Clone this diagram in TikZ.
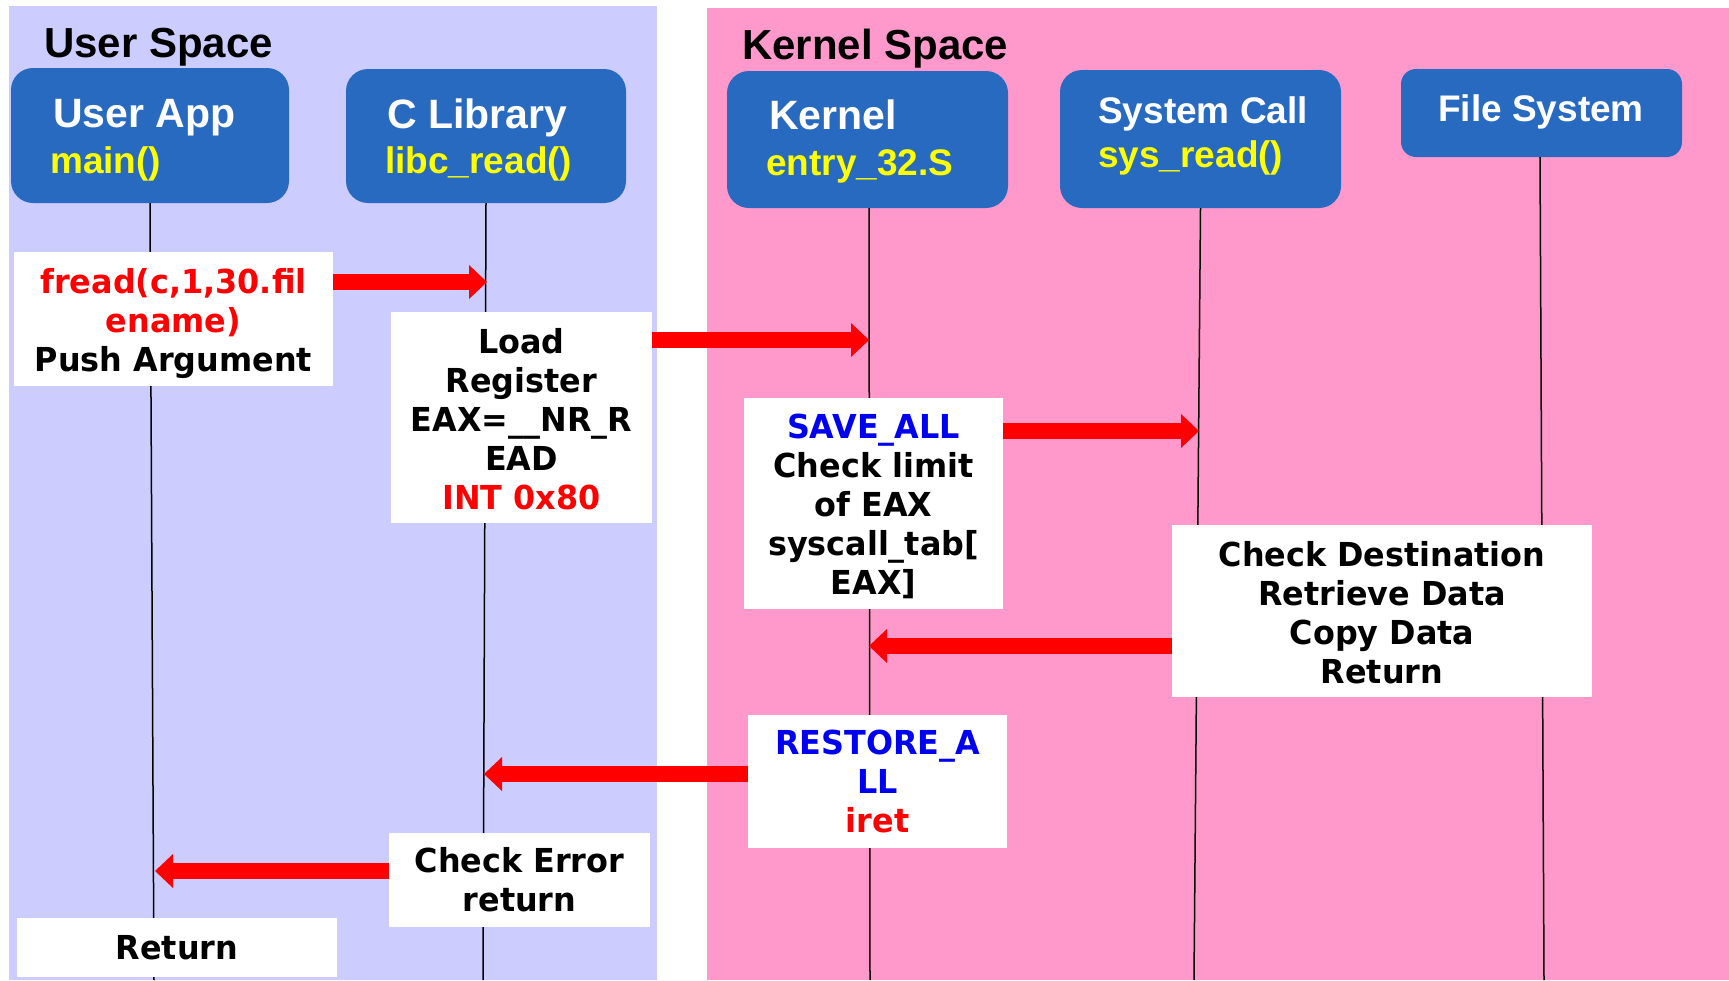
\documentclass[tikz,border=0pt]{standalone}
\usepackage{fontspec}
\setmainfont{Liberation Sans}
\newfontfamily\notefont[FakeStretch=0.965]{DejaVu Sans}
\usetikzlibrary{arrows.meta}
\definecolor{userbg}{RGB}{204,204,255}
\definecolor{kernelbg}{RGB}{255,153,204}
\definecolor{hdrblue}{RGB}{40,106,192}
\definecolor{hotred}{RGB}{255,0,0}
\definecolor{regblue}{RGB}{0,0,240}
\definecolor{hiyellow}{RGB}{255,255,0}
\begin{document}
\begin{tikzpicture}[x=1pt,y=-1pt,
  header/.style={fill=hdrblue, draw=none, rounded corners=22pt, inner sep=0pt},
  bigtitle/.style={anchor=base west, inner sep=0pt, text=white, font=\bfseries\fontsize{41}{41}\selectfont},
  smalltitle/.style={anchor=base west, inner sep=0pt, text=white, font=\bfseries\fontsize{37}{37}\selectfont},
  subtitle/.style={anchor=base west, inner sep=0pt, text=hiyellow, font=\bfseries\fontsize{37}{37}\selectfont},
  spacetitle/.style={anchor=base west, inner sep=0pt, text=black, font=\bfseries\fontsize{42}{42}\selectfont},
  note/.style={fill=white, draw=none, inner sep=0pt, align=center, text=black,
    font=\notefont\bfseries\fontsize{33}{39}\selectfont},
  life/.style={draw=black, line width=1.5pt},
  bigarrow/.style={draw=hotred, line width=16pt,
    -{Triangle[length=18pt,width=34pt,line width=0pt]}}
]
\useasboundingbox (0,0) rectangle (1729,980);
\fill[white] (0,0) rectangle (1729,980);

% address-space backgrounds
\fill[userbg] (9,6) rectangle (657,980);
\fill[kernelbg] (707,8) rectangle (1729,980);
\node[spacetitle] (userspace) at (44,57) {User Space};
\node[spacetitle] (kernelspace) at (742,59) {Kernel Space};

% lifeline ends at the bottom edge
\coordinate (uaEnd) at (154,980);
\coordinate (clEnd) at (483,980);
\coordinate (krEnd) at (870,980);
\coordinate (scEnd) at (1194,980);
\coordinate (fsEnd) at (1544,980);

% participants
\node[header, minimum width=278pt, minimum height=135pt] (ua) at (150,135.5) {};
\node[header, minimum width=280pt, minimum height=134pt] (cl) at (486,136) {};
\node[header, minimum width=281pt, minimum height=137pt] (kr) at (867.5,139.5) {};
\node[header, minimum width=281pt, minimum height=138pt] (sc) at (1200.5,139) {};
\node[header, rounded corners=15pt, minimum width=281pt, minimum height=88pt] (fs) at (1541.5,113) {};

% lifelines
\draw[life] (ua.south) -- (uaEnd);
\draw[life] (cl.south) -- (clEnd);
\draw[life] (kr.south) ++(1.5,0) -- (krEnd);
\draw[life] (sc.south) -- (scEnd);
\draw[life] (fs.south) ++(-1.5,0) -- (fsEnd);

\node[bigtitle] (uaT) at (53,127) {User App};
\node[subtitle] (uaS) at (50,173) {main()};
\node[bigtitle] (clT) at (387,128) {C Library};
\node[subtitle] (clS) at (385,173) {libc\_read()};
\node[bigtitle] (krT) at (769,129) {Kernel};
\node[subtitle] (krS) at (766,175) {entry\_32.S};
\node[smalltitle] (scT) at (1098,123) {System Call};
\node[subtitle] (scS) at (1098,167) {sys\_read()};
\node[smalltitle] (fsT) at (1438,121) {File System};

% step notes
\node[note, minimum width=319pt, minimum height=134pt] (fread) at (173.5,319)
  {\rule{0pt}{35pt}\textcolor{hotred}{fread(c,1,30.fil}\\\textcolor{hotred}{ename)}\\Push Argument};
\node[note, minimum width=261pt, minimum height=211pt] (load) at (521.5,417.5)
  {\rule{0pt}{28pt}Load\\Register\\EAX=\_\_NR\_R\\EAD\\\textcolor{hotred}{INT 0x80}};
\node[note, minimum width=259pt, minimum height=211pt] (save) at (873.5,503.5)
  {\rule{0pt}{30pt}\textcolor{regblue}{SAVE\_ALL}\\Check limit\\of EAX\\syscall\_tab[\\EAX]};
\node[note, minimum width=420pt, minimum height=172pt] (dest) at (1382,611)
  {\rule{0pt}{28pt}Check Destination\\Retrieve Data\\Copy Data\\Return};
\node[note, minimum width=259pt, minimum height=133pt] (restore) at (877.5,781.5)
  {\textcolor{regblue}{RESTORE\_A}\\\textcolor{regblue}{LL}\\\textcolor{hotred}{iret}};
\node[note, minimum width=261pt, minimum height=94pt] (chkerr) at (519.5,880)
  {Check Error\\return};
\node[note, minimum width=320pt, minimum height=59pt] (ret) at (177,947.5) {Return};

% message arrows
\coordinate (tip1) at (487,282);
\coordinate (tip2) at (869,340);
\coordinate (tip3) at (1199,431);
\coordinate (tip4) at (869,646);
\coordinate (tip5) at (484,774);
\coordinate (tip6) at (155,871);
\draw[bigarrow] (fread.east |- tip1) -- (tip1);
\draw[bigarrow] (load.east |- tip2) -- (tip2);
\draw[bigarrow] (save.east |- tip3) -- (tip3);
\draw[bigarrow] (dest.west |- tip4) -- (tip4);
\draw[bigarrow] (restore.west |- tip5) -- (tip5);
\draw[bigarrow] (chkerr.west |- tip6) -- (tip6);
\end{tikzpicture}
\end{document}
